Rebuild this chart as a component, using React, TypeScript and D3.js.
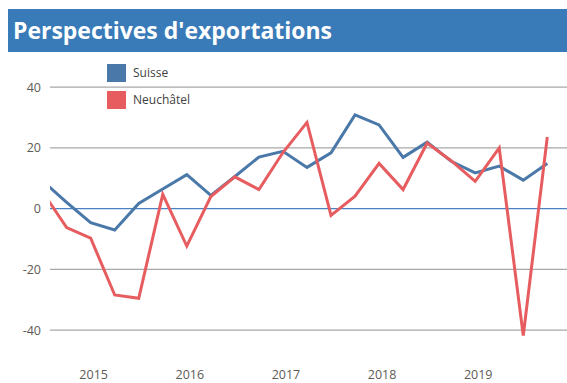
import React from "react";
import * as d3 from "d3";

const quarters: string[] = [
  "2014-Q3", "2014-Q4",
  "2015-Q1", "2015-Q2", "2015-Q3", "2015-Q4",
  "2016-Q1", "2016-Q2", "2016-Q3", "2016-Q4",
  "2017-Q1", "2017-Q2", "2017-Q3", "2017-Q4",
  "2018-Q1", "2018-Q2", "2018-Q3", "2018-Q4",
  "2019-Q1", "2019-Q2", "2019-Q3", "2019-Q4",
];

const suisse: number[] = [
  9.1, 2.1, -4.6, -7.0, 1.7, 6.5, 11.2, 4.4, 10.6, 17.0, 18.9,
  13.6, 18.4, 30.9, 27.6, 16.9, 21.9, 15.6, 11.8, 14.0, 9.4, 14.9,
];

const neuchatel: number[] = [
  5.5, -6.2, -9.7, -28.4, -29.5, 4.7, -12.3, 4.0, 10.5, 6.3, 18.5,
  28.4, -2.2, 4.1, 14.9, 6.3, 21.6, 15.8, 9.0, 20.0, -41.8, 23.6,
];

const years: string[] = ["2015", "2016", "2017", "2018", "2019"];
const yTicks: number[] = [-40, -20, 0, 20, 40];
const seriesNames: string[] = ["Suisse", "Neuchâtel"];
const title = "Perspectives d'exportations";

const W = 567;
const H = 383;
const BLUE = "#4A79A9";
const RED = "#E65C5F";
const FONT = "'Open Sans', 'DejaVu Sans', sans-serif";

export default function App() {
  const x = d3.scalePoint<string>().domain(quarters).range([42.6, 547.3]);
  const y = d3.scaleLinear().domain([-40, 40]).range([330.2, 87.2]);
  const plotLeft = 50;

  const line = d3
    .line<number>()
    .x((_, i) => x(quarters[i]) as number)
    .y((d) => y(d));

  const series = [
    { name: seriesNames[0], values: suisse, color: BLUE },
    { name: seriesNames[1], values: neuchatel, color: RED },
  ];

  return (
    <svg
      width={W}
      height={H}
      style={{ position: "absolute", left: 0, top: 0, display: "block", background: "#fff" }}
    >
      <defs>
        <clipPath id="plotClip">
          <rect x={plotLeft} y={0} width={W - plotLeft} height={H} />
        </clipPath>
      </defs>
      {/* title bar */}
      <rect x={8} y={9} width={W - 8} height={43} fill="#387BB8" />
      <text
        x={13}
        y={39}
        fill="#fff"
        fontFamily={FONT}
        fontWeight={700}
        fontSize={23}
        textLength={319}
        lengthAdjust="spacingAndGlyphs"
      >
        {title}
      </text>

      {/* gridlines */}
      {yTicks.map((t) => (
        <g key={t}>
          <line
            x1={plotLeft}
            x2={W}
            y1={y(t)}
            y2={y(t)}
            stroke={t === 0 ? "#4A82C3" : "#A8A8A8"}
            strokeWidth={1.2}
          />
          <text
            x={41}
            y={y(t) + 4.5}
            textAnchor="end"
            fontFamily={FONT}
            fontSize={12.5}
            fill="#5E5A55"
          >
            {t}
          </text>
        </g>
      ))}

      {/* year labels */}
      {years.map((yr) => (
        <text
          key={yr}
          x={(x(`${yr}-Q1`) as number) + 3}
          y={379}
          textAnchor="middle"
          fontFamily={FONT}
          fontSize={12.5}
          fill="#5E5A55"
        >
          {yr}
        </text>
      ))}

      {/* lines */}
      <g clipPath="url(#plotClip)">
        {series.map((s) => (
          <path
            key={s.name}
            d={line(s.values) as string}
            fill="none"
            stroke={s.color}
            strokeWidth={3}
            strokeLinejoin="miter"
          />
        ))}
      </g>

      {/* legend */}
      {series.map((s, i) => (
        <g key={s.name} transform={`translate(107, ${64 + i * 27})`}>
          <rect x={0} y={0} width={19} height={18} fill={s.color} />
          <text x={26} y={13} fontFamily={FONT} fontSize={12} fill="#3F3F3F">
            {s.name}
          </text>
        </g>
      ))}
    </svg>
  );
}
